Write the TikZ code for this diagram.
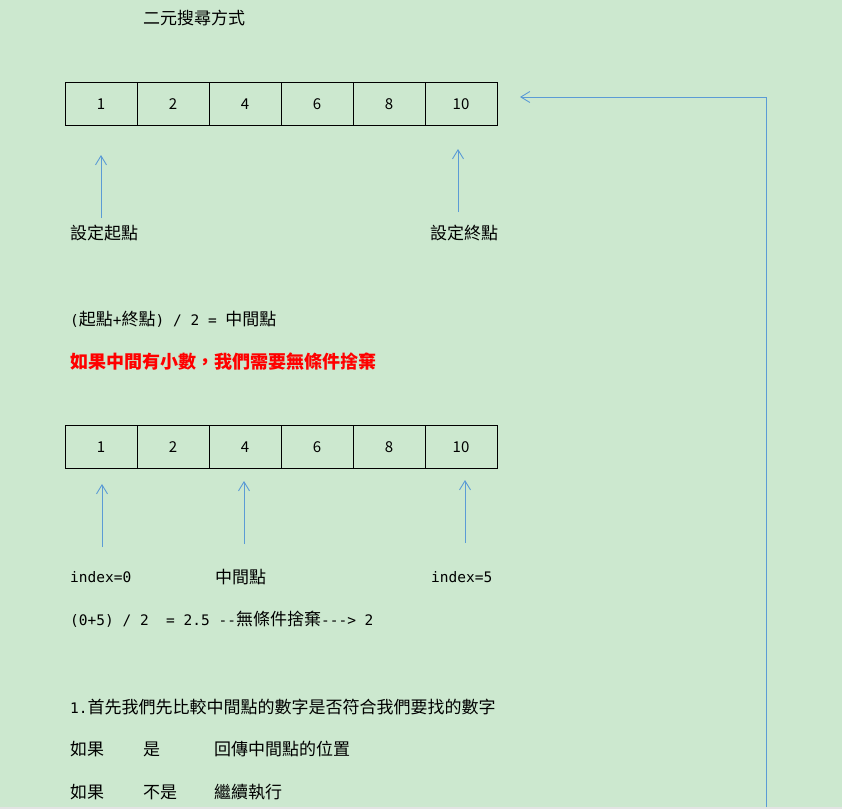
\documentclass[tikz,border=0pt]{standalone}
\usepackage{fontspec}
\setmainfont{Noto Sans CJK TC}
\newfontfamily\latfont{DejaVu Sans Mono}
\usetikzlibrary{arrows.meta}
\definecolor{fundoverde}{RGB}{204,232,207}
\definecolor{setaazul}{RGB}{91,155,213}
\newcommand\lat[1]{{\latfont\fontsize{14.5}{17}\selectfont #1}}
\tikzset{
  celula/.style={draw, line width=0.9pt, minimum width=72pt, minimum height=43pt, inner sep=0pt, font=\fontsize{15}{18}\selectfont},
  texto/.style={anchor=west, inner sep=0pt, font=\fontsize{17}{20}\selectfont},
  seta/.style={setaazul, line width=0.9pt, -{Straight Barb[length=9pt,width=11pt]}},
}
\begin{document}
\begin{tikzpicture}[x=1pt,y=-1pt] %Início do gráfico
	%Fundo
	\fill[fundoverde] (0,0) rectangle (842,809);
	\fill[gray!22] (0,807) rectangle (842,809);
	\useasboundingbox (0,0) rectangle (842,809);
	\node[texto] (titulo) at (143,18) {二元搜尋方式}; %Título
	%Primeiro vetor
	\foreach \v [count=\i] in {1,2,4,6,8,10}
		\node[celula] (a\i) at (101+72*\i-72,104) {\v};
	\coordinate (iniBase) at (101,218); \coordinate (iniPonta) at (101,155);
	\coordinate (fimBase) at (458,212); \coordinate (fimPonta) at (458,149);
	\draw[seta] (iniBase) -- (iniPonta); %Seta do início
	\draw[seta] (fimBase) -- (fimPonta); %Seta do fim
	\node[texto] (inicio) at (70,233) {設定起點};
	\node[texto] (fim) at (430,233) {設定終點};
	%Fórmula do meio
	\node[texto] (formula) at (70,319) {\lat{(}起點\lat{+}終點\lat{) / 2 = }中間點};
	\node[texto, red, font=\fontsize{18}{21}\selectfont\bfseries] (aviso) at (70,362) {如果中間有小數，我們需要無條件捨棄};
	%Segundo vetor
	\foreach \v [count=\i] in {1,2,4,6,8,10}
		\node[celula] (b\i) at (101+72*\i-72,447) {\v};
	\coordinate (b0Base) at (102,547); \coordinate (b0Ponta) at (102,484);
	\coordinate (bmBase) at (244,544); \coordinate (bmPonta) at (244,481);
	\coordinate (b5Base) at (465,543); \coordinate (b5Ponta) at (465,480);
	\draw[seta] (b0Base) -- (b0Ponta); %Seta index 0
	\draw[seta] (bmBase) -- (bmPonta); %Seta do meio
	\draw[seta] (b5Base) -- (b5Ponta); %Seta index 5
	\node[texto] (idx0) at (70,577) {\lat{index=0}};
	\node[texto] (meio) at (215,577) {中間點};
	\node[texto] (idx5) at (431,577) {\lat{index=5}};
	\node[texto] (conta) at (70,619) {\lat{(0+5) / 2~~= 2.5 --}無條件捨棄\lat{---> 2}};
	%Passos
	\node[texto] (passo) at (70,707) {\lat{1.}首先我們先比較中間點的數字是否符合我們要找的數字};
	\node[texto] (se1) at (70,749) {如果};
	\node[texto] (sim) at (143,749) {是};
	\node[texto] (retorna) at (214,749) {回傳中間點的位置};
	\node[texto] (se2) at (70,792) {如果};
	\node[texto] (nao) at (143,792) {不是};
	\node[texto] (continua) at (214,792) {繼續執行};
	%Retorno
	\coordinate (voltaBase) at (766,807); \coordinate (voltaPonta) at (520,97);
	\draw[seta] (voltaBase) |- (voltaPonta); %Seta de volta
\end{tikzpicture}
\end{document}
